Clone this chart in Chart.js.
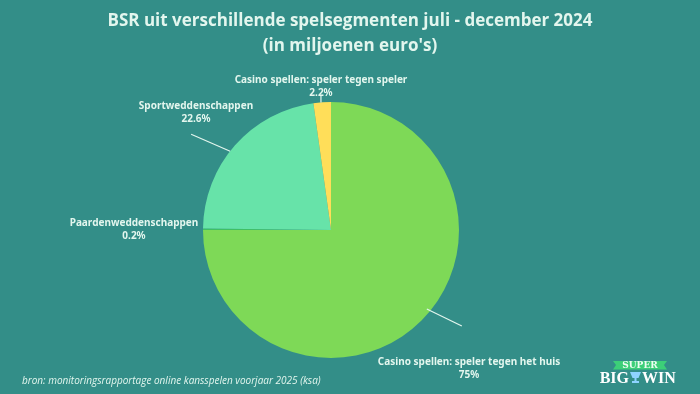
<!DOCTYPE html>
<html>
<head>
<meta charset="utf-8">
<script src="https://cdn.jsdelivr.net/npm/chart.js@4.4.1/dist/chart.umd.min.js"></script>
<style>
    html, body { margin: 0; padding: 0; background: #338e88; }
    #wrap { width: 700px; height: 394px; position: relative; }
</style>
</head>
<body>
<div id="wrap"><canvas id="bsrChart" width="700" height="394"></canvas></div>
<script>
// BSR per spelsegment, juli - december 2024
const segments = [
    'Casino spellen: speler tegen het huis',
    'Paardenweddenschappen',
    'Sportweddenschappen',
    'Casino spellen: speler tegen speler'
];
const shares = [75, 0.2, 22.6, 2.2];
const shareLabels = ['75%', '0.2%', '22.6%', '2.2%'];
const sliceColors = ['#7ed957', '#3fbf64', '#67e3a9', '#ffde59'];

const titleLines = ['BSR uit verschillende spelsegmenten juli - december 2024', "(in miljoenen euro's)"];
const sourceText = 'bron: monitoringsrapportage online kansspelen voorjaar 2025 (ksa)';

// label placement relative to the pie centre, leader line from the arc edge
const labelStyle = [
    { dx: 138, dy: 132, line: { angle: 39.5, r: 0.97, ex: 35, ey: 17 } },
    { dx: -197, dy: -7, line: null },
    { dx: -135, dy: -124, line: { angle: 218, r: 1.0, ex: -39, ey: -17 } },
    { dx: -10, dy: -150, line: { angle: 265.5, r: 1.0, ex: 0, ey: -7 } }
];

const TEXT = '#e3f6ee';

const overlay = {
    id: 'overlay',
    afterDraw(chart) {
        const ctx = chart.ctx;
        const arcs = chart.getDatasetMeta(0).data;
        const cx = arcs[0].x, cy = arcs[0].y, r = arcs[0].outerRadius;
        ctx.save();
        ctx.fillStyle = TEXT;
        ctx.textAlign = 'center';
        ctx.textBaseline = 'middle';

        // titel
        ctx.font = 'bold 17px "Open Sans"';
        ctx.fillText(titleLines[0], 350, 21);
        ctx.fillText(titleLines[1], 350, 46);

        // labels + leader lines
        ctx.font = 'bold 10px "Noto Sans"';
        segments.forEach((name, i) => {
            const s = labelStyle[i];
            ctx.fillText(name, cx + s.dx, cy + s.dy);
            ctx.fillText(shareLabels[i], cx + s.dx, cy + s.dy + 13);
            if (s.line) {
                const a = s.line.angle * Math.PI / 180;
                const x0 = cx + Math.cos(a) * r * s.line.r;
                const y0 = cy + Math.sin(a) * r * s.line.r;
                ctx.strokeStyle = TEXT;
                ctx.lineWidth = 1.2;
                ctx.beginPath();
                ctx.moveTo(x0, y0);
                ctx.lineTo(x0 + s.line.ex, y0 + s.line.ey);
                ctx.stroke();
            }
        });

        // bron
        ctx.textAlign = 'left';
        ctx.font = 'italic 10px "Open Sans"';
        ctx.fillText(sourceText, 22, 381);

        // logo
        ctx.fillStyle = '#3ccf78';
        ctx.beginPath();
        ctx.moveTo(613, 361); ctx.lineTo(667, 361); ctx.lineTo(664, 365); ctx.lineTo(667, 369.5);
        ctx.lineTo(613, 369.5); ctx.lineTo(616, 365); ctx.closePath();
        ctx.fill();
        ctx.fillStyle = '#eefcf3';
        ctx.textAlign = 'center';
        ctx.font = 'bold 9px "DejaVu Serif"';
        ctx.fillText('SUPER', 640, 365.5);
        ctx.fillStyle = '#ffffff';
        ctx.font = 'bold 16px "Liberation Serif"';
        ctx.textAlign = 'right';
        ctx.fillText('BIG', 629, 379);
        ctx.textAlign = 'left';
        ctx.fillText('WIN', 642, 379);
        // beker
        ctx.fillStyle = '#8fd3ff';
        ctx.beginPath();
        ctx.moveTo(630, 372); ctx.lineTo(641, 372); ctx.lineTo(638.5, 378); ctx.lineTo(632.5, 378);
        ctx.closePath(); ctx.fill();
        ctx.fillRect(634.5, 378, 2, 3);
        ctx.fillRect(632, 381, 7, 2);
        ctx.restore();
    }
};

new Chart(document.getElementById('bsrChart'), {
    type: 'pie',
    data: {
        labels: segments,
        datasets: [{
            data: shares,
            backgroundColor: sliceColors,
            borderWidth: 0
        }]
    },
    options: {
        responsive: false,
        animation: false,
        layout: { padding: { top: 102, bottom: 36, left: 0, right: 38 } },
        plugins: { legend: { display: false }, tooltip: { enabled: false } }
    },
    plugins: [overlay]
});
</script>
</body>
</html>
